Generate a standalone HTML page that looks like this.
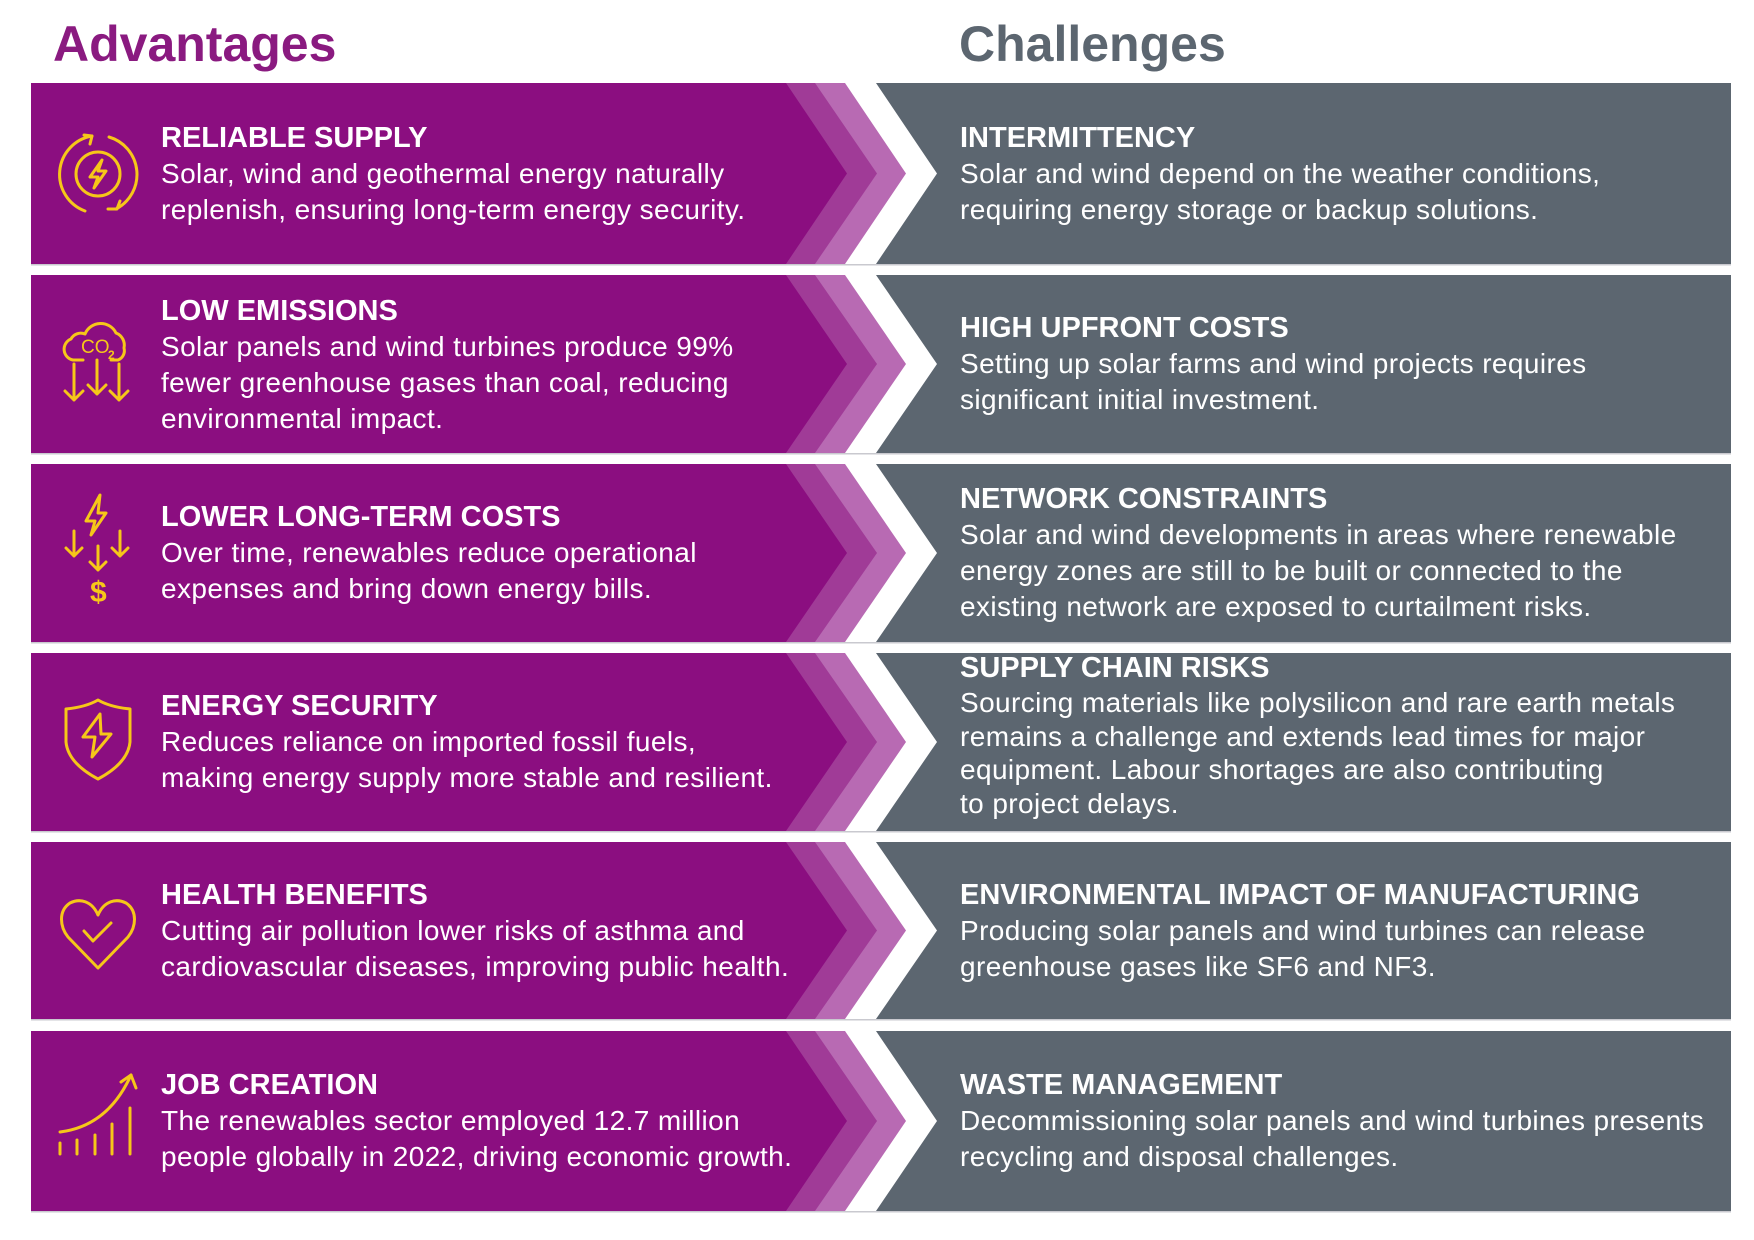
<!DOCTYPE html>
<html><head><meta charset="utf-8"><style>
body{margin:0;width:1754px;height:1240px;background:#fff;position:relative;overflow:hidden;font-family:"Liberation Sans",Arial,sans-serif}
.t{position:absolute;font-weight:bold;font-size:50px;top:14px;line-height:60px}
.b{position:absolute;color:#fff;font-size:28px;line-height:36px;white-space:nowrap;letter-spacing:0.4px}
.b h{display:block;font-weight:bold;font-size:29px;letter-spacing:0}
svg{position:absolute;left:0;top:0}
</style></head><body>
<svg width="1754" height="1240" viewBox="0 0 1754 1240">
<g id="rows"></g>
</svg>
<div class="t" style="left:53px;color:#8a1a80">Advantages</div>
<div class="t" style="left:959px;color:#5c6670">Challenges</div>

<div class="b" style="left:161px;top:120px"><h>RELIABLE SUPPLY</h>Solar, wind and geothermal energy naturally<br>replenish, ensuring long-term energy security.</div>
<div class="b" style="left:161px;top:293px"><h>LOW EMISSIONS</h>Solar panels and wind turbines produce 99%<br>fewer greenhouse gases than coal, reducing<br>environmental impact.</div>
<div class="b" style="left:161px;top:499px"><h>LOWER LONG-TERM COSTS</h>Over time, renewables reduce operational<br>expenses and bring down energy bills.</div>
<div class="b" style="left:161px;top:688px"><h>ENERGY SECURITY</h>Reduces reliance on imported fossil fuels,<br>making energy supply more stable and resilient.</div>
<div class="b" style="left:161px;top:877px"><h>HEALTH BENEFITS</h>Cutting air pollution lower risks of asthma and<br>cardiovascular diseases, improving public health.</div>
<div class="b" style="left:161px;top:1067px"><h>JOB CREATION</h>The renewables sector employed 12.7 million<br>people globally in 2022, driving economic growth.</div>

<div class="b" style="left:960px;top:120px"><h>INTERMITTENCY</h>Solar and wind depend on the weather conditions,<br>requiring energy storage or backup solutions.</div>
<div class="b" style="left:960px;top:310px"><h>HIGH UPFRONT COSTS</h>Setting up solar farms and wind projects requires<br>significant initial investment.</div>
<div class="b" style="left:960px;top:481px"><h>NETWORK CONSTRAINTS</h>Solar and wind developments in areas where renewable<br>energy zones are still to be built or connected to the<br>existing network are exposed to curtailment risks.</div>
<div class="b" style="left:960px;top:650px;line-height:33.5px"><h style="line-height:36px">SUPPLY CHAIN RISKS</h>Sourcing materials like polysilicon and rare earth metals<br>remains a challenge and extends lead times for major<br>equipment. Labour shortages are also contributing<br>to project delays.</div>
<div class="b" style="left:960px;top:877px"><h>ENVIRONMENTAL IMPACT OF MANUFACTURING</h>Producing solar panels and wind turbines can release<br>greenhouse gases like SF6 and NF3.</div>
<div class="b" style="left:960px;top:1067px"><h>WASTE MANAGEMENT</h>Decommissioning solar panels and wind turbines presents<br>recycling and disposal challenges.</div>

<script>
(function(){
var rows=[[83,264],[275,453],[464,642],[653,831],[842,1019],[1031,1211]];
var s='';
rows.forEach(function(r){var t=r[0],b=r[1],m=(t+b)/2;
s+='<rect x="31" y="'+(b)+'" width="1700" height="1.5" fill="#c9c9cf"/>';
s+='<polygon fill="#b86ab3" points="31,'+t+' 845,'+t+' 906,'+m+' 845,'+b+' 31,'+b+'"/>';
s+='<polygon fill="#a03b97" points="31,'+t+' 815,'+t+' 877,'+m+' 815,'+b+' 31,'+b+'"/>';
s+='<polygon fill="#8b0e80" points="31,'+t+' 786,'+t+' 847,'+m+' 786,'+b+' 31,'+b+'"/>';
s+='<polygon fill="#5c6670" points="876,'+t+' 1731,'+t+' 1731,'+b+' 876,'+b+' 937,'+m+'"/>';
});
var y='stroke="#f6c719" stroke-width="3" fill="none" stroke-linecap="round" stroke-linejoin="round"';
var bolt='M4,-14 L-8,3 L0,3 L-4,14 L8,-3 L0,-3 Z';
s+='<g transform="translate(98,174)" '+y+'><circle r="22"/><path d="'+bolt+'"/><path d="M-6,-38 A39,39 0 0 0 -13,37"/><path d="M-14,-39 L-6,-38 L-8,-30"/><path d="M11,-37 A39,39 0 0 1 18,35"/><path d="M10,35 L19,35 L22,27"/></g>';
s+='<g transform="translate(97,362)" '+y+'><path d="M-14,-2 L-24,-2 A11,11 0 0 1 -26,-23 A11,11 0 0 1 -12,-28 A17,17 0 0 1 19,-29 A13,13 0 0 1 27,-14 A10,10 0 0 1 21,-2 L14,-2"/><text x="-16" y="-9" font-family=\'Liberation Sans\' font-size="19" fill="#f6c719" stroke="none">CO</text><text x="11" y="-3" font-family=\'Liberation Sans\' font-size="12" font-weight="bold" fill="#f6c719" stroke="none">2</text><path d="M-23,2 L-23,38 M-32,29 L-23,38 L-14,29 M0,-2 L0,32 M-9,23 L0,32 L9,23 M22,2 L22,38 M13,29 L22,38 L31,29"/></g>';
s+='<g transform="translate(98,550)" '+y+'><path d="M2,-55 L-12,-29 L-3,-29 L-7,-15 L8,-37 L0,-37 Z"/><path d="M-24,-19 L-24,6 M-32,-2 L-24,6 L-16,-2 M22,-19 L22,6 M14,-2 L22,6 L30,-2 M0,-4 L0,20 M-8,12 L0,20 L8,12"/><text x="-8" y="52" font-family=\'Liberation Sans\' font-size="30" font-weight="bold" fill="#f6c719" stroke="none">$</text></g>';
s+='<g transform="translate(98,738)" '+y+'><path d="M-32,-29 Q-12,-31 0,-38 Q12,-31 32,-29 L32,4 Q30,25 0,41 Q-30,25 -32,4 Z"/><path d="M2,-24 L-15,-1 L-3,-1 L-6,19 L13,-4 L3,-4 Z"/></g>';
s+='<g transform="translate(98,931)" '+y+'><path d="M0,-16 C-6,-30 -18,-33 -28,-28 C-40,-20 -38,-4 -30,6 L0,37 L30,6 C38,-4 40,-20 28,-28 C18,-33 6,-30 0,-16 Z"/><path d="M-14,0 L-5,10 L13,-8"/></g>';
s+='<g transform="translate(98,1114)" '+y+'><path d="M-38,18 Q10,12 33,-39"/><path d="M23,-32 L33,-39 L38,-26"/><path d="M-38,40 L-38,29 M-21,40 L-21,26 M-3,40 L-3,21 M14,40 L14,10 M32,40 L32,-6"/></g>';
document.getElementById('rows').innerHTML=s;
})();
</script>
</body></html>
